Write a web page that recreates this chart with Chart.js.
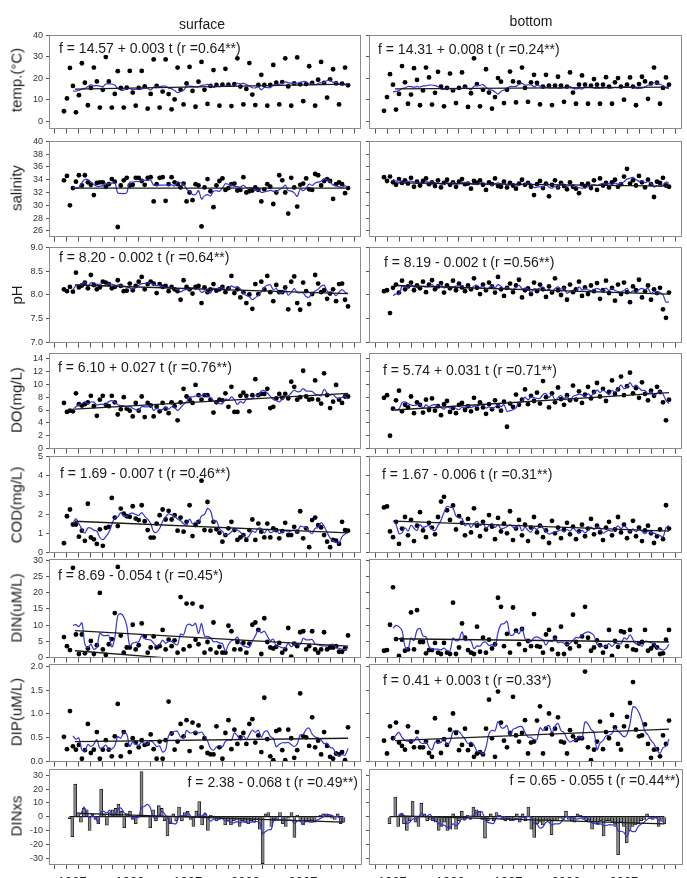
<!DOCTYPE html>
<html lang="en">
<head>
<meta charset="UTF-8">
<title>surface / bottom</title>
<script src="https://cdn.jsdelivr.net/npm/chart.js"></script>
<style>
  * { box-sizing: border-box; margin: 0; padding: 0; }
  html, body { width: 687px; height: 878px; overflow: hidden; background: #fff; }
  body { position: relative; font-family: "Liberation Sans", Arial, sans-serif; color: #1a1a1a; }
  .head { position: absolute; font-size: 14px; white-space: nowrap; transform: translate(-50%, -50%); }
  .ylab { position: absolute; font-size: 15px; white-space: nowrap; transform: translate(-50%, -50%) rotate(-90deg); }
  .eq { position: absolute; font-size: 14px; white-space: nowrap; transform: translateY(-50%); }
  .eq.r { transform: translate(-100%, -50%); }
</style>
</head>
<body>
<script>
// sampling times (quarterly)
const years = [
  1986.75, 1987, 1987.25, 1987.5, 1987.75, 1988, 1988.25, 1988.5, 1988.75, 1989, 1989.25, 1989.5, 1989.75, 1990, 1990.25, 1990.5,
  1990.75, 1991, 1991.25, 1991.5, 1991.75, 1992, 1992.25, 1992.5, 1992.75, 1993, 1993.25, 1993.5, 1993.75, 1994, 1994.25, 1994.5,
  1994.75, 1995, 1995.25, 1995.5, 1995.75, 1996, 1996.25, 1996.5, 1996.75, 1997, 1997.25, 1997.5, 1997.75, 1998, 1998.25, 1998.5,
  1998.75, 1999, 1999.25, 1999.5, 1999.75, 2000, 2000.25, 2000.5, 2000.75, 2001, 2001.25, 2001.5, 2001.75, 2002, 2002.25, 2002.5,
  2002.75, 2003, 2003.25, 2003.5, 2003.75, 2004, 2004.25, 2004.5, 2004.75, 2005, 2005.25, 2005.5, 2005.75, 2006, 2006.25, 2006.5,
  2006.75, 2007, 2007.25, 2007.5, 2007.75, 2008, 2008.25, 2008.5, 2008.75, 2009, 2009.25, 2009.5, 2009.75, 2010, 2010.25, 2010.5
];

const tempSurface = [
  4.6,10.6,24.8,16.4, 4.1,12.1,27.0,17.9, 7.4,15.5,25.0,18.5, 6.3,14.6,29.9,18.5,
  6.3,12.7,23.3,15.5, 6.3,15.6,23.4,13.3, 7.2,15.5,23.4,16.2, 5.8,12.7,28.8,16.4,
  6.3,13.8,28.8,12.6, 5.5,10.1,25.0,14.6, 7.8,17.6,25.3,14.1, 6.7,18.4,27.6,14.6,
  8.0,16.4,23.8,16.9, 7.2,17.0,24.4,17.0, 7.0,17.3,29.3,16.1, 7.8,15.0,27.1,12.4,
  7.5,16.9,21.6,16.9, 7.2,16.9,26.2,17.9, 7.8,18.2,29.3,16.2, 7.2,17.6,29.7,17.2,
  9.3,17.3,25.6,17.8, 7.2,19.3,27.6,17.8, 11.0,19.5,24.2,17.6, 7.8,17.5,25.0,16.7
];
const tempBottom = [
  4.8,11.2,21.9,17.0, 5.4,12.7,25.7,18.1, 8.1,12.4,24.7,19.2, 7.4,14.3,25.0,20.4,
  7.7,13.2,23.0,16.1, 6.9,15.5,22.2,14.3, 8.4,15.5,22.7,16.1, 6.6,13.0,29.3,17.3,
  6.9,14.6,24.2,13.3, 5.8,11.2,20.1,18.4, 8.4,14.6,23.1,18.5, 8.7,18.1,25.0,15.5,
  9.0,18.1,21.6,17.8, 7.8,16.1,21.6,16.6, 7.5,16.6,20.7,16.6, 9.0,16.1,22.7,13.3,
  8.1,17.0,21.3,17.0, 8.1,16.6,19.6,17.0, 8.1,17.0,20.5,16.1, 8.1,18.1,20.1,16.1,
  10.0,17.0,20.4,16.1, 7.4,17.3,20.7,18.5, 10.4,17.6,25.0,17.9, 8.1,15.5,20.4,17.0
];
const salSurface = [
  33.9,34.6,30.0,32.7, 33.7,34.7,33.1,34.7, 33.6,33.2,31.6,33.5, 33.6,33.6,32.9,33.3,
  34.1,33.7,26.6,33.1, 33.9,34.3,33.1,33.2, 34.3,34.3,33.8,33.2, 34.3,34.4,30.6,33.3,
  34.3,34.4,30.7,33.3, 34.4,33.6,33.3,32.8, 33.4,30.6,32.0,30.8, 33.3,33.1,26.7,32.8,
  34.1,32.2,29.7,33.1, 33.8,34.2,32.4,32.7, 33.3,33.4,32.3,32.4, 34.4,32.0,32.2,32.3,
  32.8,32.4,30.6,32.5, 33.3,32.9,30.2,32.0, 34.7,33.9,32.0,28.7, 34.3,32.8,29.8,33.2,
  33.4,34.2,32.5,32.4, 34.9,34.7,33.1,33.8, 34.1,33.8,31.0,33.3, 33.6,33.3,31.9,32.7
];
const salBottom = [
  34.4,33.8,34.5,33.6, 33.2,34.1,33.5,33.9, 33.4,34.3,32.9,33.7, 33.1,33.8,34.2,33.3,
  33.6,33.0,33.9,32.8, 33.5,34.0,33.2,33.6, 32.9,33.7,34.1,33.3, 33.4,32.6,33.8,33.5,
  33.9,33.2,32.4,33.6, 33.3,34.2,33.0,32.9, 33.7,32.8,33.5,33.1, 32.6,33.4,34.0,33.2,
  33.5,32.9,31.6,33.3, 33.8,32.7,33.4,31.4, 33.2,33.9,32.8,33.5, 33.0,32.5,33.6,32.9,
  32.6,31.9,33.3,33.0, 33.4,32.7,33.9,32.4, 34.2,33.1,33.5,32.8, 33.6,34.0,32.9,33.3,
  34.5,35.7,33.4,33.9, 33.1,34.6,33.6,32.8, 34.0,33.3,31.3,33.7, 33.5,34.3,33.1,32.9
];
const phSurface = [
  8.12,8.08,8.17,8.07, 8.47,8.16,8.20,8.26, 8.14,8.42,8.21,8.12, 8.16,8.28,8.26,8.23,
  8.14,8.17,8.31,8.19, 8.08,8.09,8.24,8.10, 8.19,8.28,8.38,8.12, 8.23,8.28,8.24,8.04,
  8.23,8.17,8.19,8.08, 8.17,8.12,8.08,7.90, 8.31,8.17,8.12,8.03, 8.17,8.19,7.83,8.16,
  8.06,8.12,8.23,8.09, 8.12,8.17,8.06,8.14, 8.40,8.04,8.12,7.95, 8.06,7.83,8.01,7.71,
  8.23,8.02,8.28,8.12, 8.40,8.06,7.87,8.21, 8.06,8.06,8.16,7.70, 8.28,8.39,7.83,7.69,
  8.26,8.08,7.81,8.02, 8.42,8.24,8.06,8.10, 7.92,8.03,8.12,7.87, 8.23,8.24,7.90,7.76
];
const phBottom = [
  8.08,8.10,7.62,8.15, 8.22,8.05,8.30,8.12, 8.18,8.26,8.10,8.20, 8.14,8.28,8.06,8.22,
  8.31,8.12,8.18,8.25, 8.05,8.20,8.14,8.30, 8.10,8.24,8.16,8.08, 8.20,8.12,8.35,8.15,
  8.02,8.22,8.10,8.26, 8.18,8.05,8.38,8.12, 7.98,8.15,8.24,8.06, 8.20,8.32,7.95,8.10,
  8.14,8.02,8.26,8.08, 8.22,8.12,7.96,8.18, 8.05,8.35,8.10,8.00, 8.15,7.90,8.22,8.06,
  8.12,8.28,7.98,8.16, 8.02,8.20,8.08,8.25, 7.92,8.10,8.30,8.04, 8.15,7.88,8.22,8.02,
  8.26,8.06,7.85,8.18, 8.10,8.32,7.95,8.08, 8.20,7.90,8.12,8.04, 8.15,7.70,7.52,8.05
];
const doSurface = [
  7.1,5.7,5.9,5.8, 8.6,6.9,6.7,6.9, 7.2,8.2,6.6,5.1, 7.6,8.2,6.8,6.6,
  8.2,7.2,5.3,6.1, 8.0,6.2,5.9,5.0, 7.1,5.9,8.1,4.9, 7.1,6.7,5.0,6.5,
  5.8,7.1,6.2,5.5, 7.2,6.6,4.4,7.2, 9.3,8.1,7.6,7.1, 9.9,8.3,7.6,8.3,
  8.3,7.6,5.6,7.2, 7.6,7.5,8.6,6.5, 9.6,5.7,5.7,8.2, 8.7,8.2,5.8,8.3,
  10.8,8.3,8.5,8.5, 9.3,6.3,6.5,7.8, 8.5,7.9,8.5,7.8, 10.4,9.6,7.6,8.0,
  12.1,8.1,7.6,7.7, 10.6,7.6,7.0,11.7, 8.3,6.3,7.3,9.9, 7.6,7.1,8.1,8.1
];
const doBottom = [
  7.9,8.3,2.0,6.2, 7.5,9.0,5.8,6.8, 6.4,8.1,5.5,7.2, 6.8,5.6,7.6,6.0,
  7.8,5.9,6.6,5.2, 6.9,7.4,5.7,6.3, 5.5,6.8,7.1,6.0, 6.6,5.8,7.9,6.2,
  7.2,6.4,5.4,6.9, 6.1,7.5,6.6,5.9, 7.3,3.4,7.0,6.5, 8.4,6.8,7.6,9.2,
  6.9,8.2,7.4,8.7, 7.0,10.5,8.0,6.4, 8.6,7.2,9.5,7.7, 6.8,8.3,7.5,9.8,
  7.6,8.9,7.1,8.4, 9.6,7.8,8.8,10.2, 8.1,9.3,7.4,8.8, 10.6,8.5,9.2,11.2,
  8.3,9.7,11.8,8.6, 9.4,7.9,10.3,8.5, 7.5,9.0,8.2,9.6, 8.8,7.2,4.4,7.6
];
const codSurface = [
  0.49,1.89,2.24,1.46, 1.46,0.83,1.14,0.61, 2.54,0.79,0.69,0.45, 1.21,0.35,1.29,1.34,
  2.84,1.82,1.38,2.29, 2.03,1.89,1.86,2.41, 1.77,1.69,2.46,1.63, 1.17,0.78,0.78,1.51,
  1.94,2.24,1.72,2.17, 1.72,1.94,1.14,1.82, 1.09,1.60,2.46,0.86, 1.43,1.60,3.74,1.17,
  2.63,1.14,1.60,1.21, 1.03,0.57,0.91,1.26, 1.60,1.17,0.66,0.79, 0.91,0.66,1.17,1.72,
  0.66,1.51,1.09,0.79, 1.51,0.79,1.26,1.17, 0.74,1.12,1.55,0.91, 0.91,1.34,1.09,2.15,
  0.74,1.26,0.28,1.69, 1.82,1.43,1.31,0.91, 0.57,0.28,0.66,0.62, 0.45,1.60,1.17,1.14
];
const codBottom = [
  2.35,2.40,1.10,0.80, 1.60,0.45,1.25,1.85, 0.90,1.70,0.60,1.40, 2.10,1.15,0.80,1.55,
  1.30,0.95,1.85,2.65, 2.90,2.20,1.70,2.45, 1.20,1.90,1.55,0.90, 1.75,1.05,2.30,1.40,
  0.85,1.60,1.20,1.95, 1.35,0.70,1.80,1.10, 1.50,1.00,2.15,0.65, 1.25,1.70,0.90,1.45,
  0.60,1.30,1.85,1.05, 1.40,0.80,1.15,0.50, 1.65,1.00,1.30,0.75, 1.20,1.55,0.95,1.35,
  0.70,1.10,1.45,0.85, 1.25,1.75,0.95,1.40, 1.05,0.65,1.30,1.60, 0.90,1.20,1.85,1.05,
  1.45,0.75,1.10,1.65, 0.85,1.30,0.60,1.15, 1.40,1.00,0.50,0.85, 1.20,0.70,2.46,1.25
];
const dinSurface = [
  6.3,3.5,2.3,27.6, 7.1,1.1,7.1,1.3, 2.8,5.1,1.1,3.8, 19.9,2.5,0.8,4.1,
  5.7,13.7,27.9,6.8, 1.5,3.1,3.1,10.1, 2.5,3.8,10.5,6.5, 1.5,3.1,6.5,3.1,
  3.5,8.5,2.5,5.5, 3.5,5.3,1.5,18.6, 2.5,16.6,3.5,16.6, 5.5,4.1,15.6,1.5,
  4.8,2.5,10.8,1.5, 3.3,1.5,1.5,9.8, 8.1,2.5,4.8,2.5, 4.5,1.5,4.3,10.1,
  10.8,8.5,1.1,12.1, 4.8,3.1,2.8,3.3, 4.5,1.5,2.5,9.1, 0.3,4.3,3.5,7.8,
  8.1,2.5,3.5,8.1, 2.5,1.5,2.5,7.8, 2.5,3.1,3.1,3.5, 1.8,1.8,2.8,6.8
];
const dinBottom = [
  2.1,2.3,10.1,21.6, 5.7,0.5,5.5,2.1, 2.5,13.9,2.5,14.6, 4.8,4.8,1.3,2.3,
  2.3,4.5,1.5,1.1, 4.5,1.5,1.1,16.9, 1.1,3.1,10.5,6.1, 2.3,1.5,1.1,9.5,
  1.8,6.1,1.5,5.5, 2.8,4.1,18.4,15.6, 3.5,7.3,1.5,15.4, 8.3,4.1,8.8,2.3,
  5.1,3.5,13.4,3.5, 3.3,1.5,7.1,8.5, 2.5,6.1,1.1,9.5, 1.1,4.1,2.8,13.2,
  4.8,3.5,6.5,15.6, 6.1,2.1,3.1,5.3, 3.8,1.5,3.3,8.5, 0.5,5.1,3.3,8.1,
  7.8,3.5,8.5,2.5, 2.3,4.3,4.8,8.5, 2.1,2.8,3.8,3.1, 1.1,1.3,5.5,8.5
];
const dipSurface = [
  0.52,0.26,1.06,0.32, 0.25,0.35,0.06,0.24, 0.79,0.18,0.25,0.62, 0.06,0.25,0.45,0.25,
  0.11,0.53,1.21,0.11, 0.62,0.35,0.20,0.49, 0.40,0.30,0.45,0.35, 0.37,0.57,0.26,0.06,
  0.42,0.06,0.45,1.26, 0.59,0.25,0.42,0.79, 0.53,0.87,0.22,0.82, 0.60,0.76,0.30,0.49,
  0.18,0.15,0.15,0.74, 0.30,0.06,0.60,0.87, 0.26,0.67,0.37,0.51, 0.60,0.37,0.79,0.89,
  0.40,0.55,0.20,1.34, 0.47,0.11,0.03,0.64, 0.67,0.24,0.03,0.67, 0.49,0.08,0.24,1.43,
  0.53,0.51,0.33,0.93, 0.30,0.44,0.15,0.62, 0.33,0.10,0.06,0.17, 0.15,0.20,0.03,0.72
];
const dipBottom = [
  0.44,0.17,0.74,0.49, 0.82,0.40,0.33,0.25, 0.74,0.42,0.30,0.62, 0.30,0.30,0.42,0.18,
  0.10,0.91,0.42,0.18, 0.47,0.35,0.67,1.01, 0.60,0.24,0.35,0.69, 0.24,0.35,0.10,0.17,
  0.20,0.15,0.69,1.30, 0.49,0.10,1.47,0.82, 0.44,0.30,0.60,1.36, 0.55,0.42,0.60,0.87,
  0.17,0.40,0.42,0.86, 1.16,0.17,0.69,1.01, 0.57,0.69,0.93,0.42, 0.40,0.17,0.66,0.53,
  0.45,0.49,0.49,1.89, 0.30,0.03,0.25,0.42, 0.84,0.26,0.62,0.49, 0.98,0.72,0.37,0.25,
  0.74,0.94,1.23,1.67, 0.67,0.53,0.55,0.78, 0.37,0.08,0.25,0.26, 0.11,0.55,0.37,0.86
];
const dinxsSurface = [
  -1.5,-14.5,23.6,3, -4,6,5,-10, 2,-2,-5,20, 2,-6.2,3,5,
  6,9,4,-8, 2,4,-2,-5, 1,32.8,1,1, -8,5,-3,8,
  6,-3,-14,-5, 2,-3,7,-3, 3,4,-2,-7, 4,11,-6,2,
  -10,1,0.5,-3, -2,-1,-6,-3, -6,-3,-2,-7, -3,-4,-5,-3,
  -4,-2,-9,-34, 2,3,-7,-3, -2,3,-5,-7, -1,3,-15,1,
  -2,-6,-4,-3, -3,-4,0.5,1, 2,2,1,-1, -2,2,-5,-4
];
const dinxsBottom = [
  -5,0,14.3,-7, 2,-5,-10,-3, 11.4,-4,-7,9.8, 2,-3,-2,-3,
  -4,-10,-7,-4, -10,-9,2,-9, -3,4,-2,1, -2,7,5,4,
  -2,-15.5,-3,2, -3,3,1,-2, -3,-2,-3,-2, 2,-4,2,-3,
  7,-9,-15,-5, -4,-6,-2,-3, -13,-3,-2,-1, -2,4,-2,-3,
  -4,2,1,-2, -3,-4,-9,-4, -5,-3,-14,-3, -3,-4,-7,-27.5,
  -4,-7,-19,-10, -7,-6,-5,-3, -2,2,-1,-2, -1,-7,-2,-5
];

// regression lines: [start, end] values over trendYears
const trendYears = [1987.67, 2010.5];
const trendSurface = [[14.9, 17.3], [32.7, 32.7], [8.21, 8.03], [6.15, 8.6], [1.63, 1.03], [8.3, 3.5], [0.42, 0.49], [2.4, -4.0]];
const trendBottom  = [[15.0, 15.9], [33.5, 33.0], [8.20, 8.02], [6.0, 8.7], [1.64, 1.12], [5.8, 4.8], [0.44, 0.68], [0.65, -5.2]];
// short extra line in the DIN surface panel
const dinLowYears = [1987.67, 1995.0];
const dinLowValues = [2.1, 0];

const rowTitles = ['temp.(°C)', 'salinity', 'pH', 'DO(mg/L)', 'COD(mg/L)', 'DIN(uM/L)', 'DIP(uM/L)', 'DINxs'];
const yTickValues = [
  [0, 10, 20, 30, 40],
  [26, 28, 30, 32, 34, 36, 38, 40],
  [7.0, 7.5, 8.0, 8.5, 9.0],
  [0, 2, 4, 6, 8, 10, 12, 14],
  [0, 1, 2, 3, 4, 5],
  [0, 5, 10, 15, 20, 25, 30],
  [0, 0.5, 1.0, 1.5, 2.0],
  [-30, -20, -10, 0, 10, 20, 30]
];
const yDecimals = [0, 0, 1, 0, 0, 0, 1, 0];
const xTickYears = [1986,1987,1988,1989,1990,1991,1992,1993,1994,1995,1996,1997,1998,1999,2000,2001,2002,2003,2004,2005,2006,2007,2008,2009,2010,2011];
const xLabelYears = [1987, 1992, 1997, 2002, 2007];

const eqSurface = [
  'f = 14.57 + 0.003 t (r =0.64**)', '', 'f = 8.20 - 0.002 t (r =0.64**)', 'f = 6.10 + 0.027 t (r =0.76**)',
  'f = 1.69 - 0.007 t (r =0.46**)', 'f = 8.69 - 0.054 t (r =0.45*)', '', 'f = 2.38 - 0.068 t (r =0.49**)'
];
const eqBottom = [
  'f = 14.31 + 0.008 t (r =0.24**)', '', 'f = 8.19 - 0.002 t (r =0.56**)', 'f = 5.74 + 0.031 t (r =0.71**)',
  'f = 1.67 - 0.006 t (r =0.31**)', '', 'f = 0.41 + 0.003 t (r =0.33*)', 'f = 0.65 - 0.055 t (r =0.44**)'
];

const series = [
  [tempSurface, tempBottom], [salSurface, salBottom], [phSurface, phBottom], [doSurface, doBottom],
  [codSurface, codBottom], [dinSurface, dinBottom], [dipSurface, dipBottom], [dinxsSurface, dinxsBottom]
];

// layout: plot box top/bottom (px) and y range for each row
const rowBox = [
  [34, 129, -3.5, 40], [140, 237, 25.1, 40], [246, 343, 7, 9], [352, 449, 0, 14.8],
  [455, 553, 0, 5], [558, 658, 0, 30.2], [663, 762, 0, 2.04], [768, 864, -34.3, 34.3]
];
const rowCenters = [80, 188, 295, 400, 505, 608, 712, 816];
// equation positions [x, y, alignRight]
const eqPos = [
  [[59, 48], [378, 49]], [null, null], [[59, 257], [384, 262]], [[58, 367], [383, 370]],
  [[60, 473], [382, 474]], [[58, 575], null], [null, [383, 680]], [[358, 782, 1], [680, 780, 1]]
];

Chart.defaults.font.family = '"Liberation Sans", Arial, sans-serif';

const boxPlugin = {
  id: 'box',
  afterDraw(chart) {
    const { ctx, chartArea: a } = chart;
    ctx.save();
    ctx.strokeStyle = '#8c8c8c';
    ctx.lineWidth = 1;
    ctx.strokeRect(Math.round(a.left) + 0.5, Math.round(a.top) + 0.5, Math.round(a.right - a.left), Math.round(a.bottom - a.top));
    ctx.restore();
  }
};

// running mean over 4 samples (one year)
function runningMean(v, n) {
  const out = [];
  for (let i = n - 1; i < v.length; i++) {
    let s = 0;
    for (let k = i - n + 1; k <= i; k++) s += v[k];
    out.push({ x: years[i], y: s / n });
  }
  return out;
}

function makePanel(col, r) {
  const isLeft = col === 0;
  const isLast = r === rowBox.length - 1;
  const [top, bottom, yMin, yMax] = rowBox[r];
  const canvasLeft = isLeft ? 0 : 362;
  const axisW = isLeft ? 49 : 7;
  const plotRight = isLeft ? 361 : 682;
  const padTop = 7, padRight = 3;
  const xH = isLast ? 32 : 8;
  const w = plotRight - canvasLeft + padRight;
  const h = bottom - top + padTop + xH;

  const cv = document.createElement('canvas');
  cv.width = w; cv.height = h;
  cv.style.cssText = `position:absolute;left:${canvasLeft}px;top:${top - padTop}px;width:${w}px;height:${h}px`;
  document.body.appendChild(cv);

  const vals = series[r][col];
  const tr = (isLeft ? trendSurface : trendBottom)[r];
  const datasets = [
    { type: 'line', data: [{ x: trendYears[0], y: tr[0] }, { x: trendYears[1], y: tr[1] }],
      borderColor: '#1a1a1a', borderWidth: 1.3, pointRadius: 0 },
    { type: 'line', data: runningMean(vals, 4), borderColor: '#3434d6', borderWidth: 1.2,
      pointRadius: 0, tension: 0.35 }
  ];
  if (r === 5 && isLeft) {
    datasets.push({ type: 'line', data: dinLowYears.map((x, i) => ({ x, y: dinLowValues[i] })),
      borderColor: '#1a1a1a', borderWidth: 1.3, pointRadius: 0 });
  }
  if (isLast) {
    datasets.push({ type: 'line', data: [{ x: years[0], y: 0 }, { x: years[years.length - 1], y: 0 }],
      borderColor: '#1a1a1a', borderWidth: 1.2, pointRadius: 0 });
    datasets.push({ type: 'bar', data: years.map((x, i) => ({ x, y: vals[i] })),
      backgroundColor: '#8a8a8a', borderColor: '#111', borderWidth: 0.8, barThickness: 3 });
  } else {
    datasets.push({ type: 'scatter', data: years.map((x, i) => ({ x, y: vals[i] })),
      pointRadius: 2.4, backgroundColor: '#000', borderWidth: 0 });
  }

  new Chart(cv, {
    type: 'scatter',
    data: { datasets },
    plugins: [boxPlugin],
    options: {
      responsive: false,
      animation: false,
      layout: { padding: { top: padTop, right: padRight, left: 0, bottom: 0 } },
      plugins: { legend: { display: false }, tooltip: { enabled: false } },
      scales: {
        x: {
          type: 'linear', min: 1985.5, max: 2011.5,
          afterBuildTicks: s => { s.ticks = xTickYears.map(v => ({ value: v })); },
          afterFit: s => { s.height = xH; },
          border: { display: false },
          grid: { drawOnChartArea: false, drawTicks: true, tickLength: 5, color: '#555' },
          ticks: {
            autoSkip: false, maxRotation: 0, padding: 6, color: '#222',
            font: { size: 13 },
            callback: v => (isLast && xLabelYears.includes(v)) ? String(v) : ''
          }
        },
        y: {
          min: yMin, max: yMax,
          afterBuildTicks: s => { s.ticks = yTickValues[r].map(v => ({ value: v })); },
          afterFit: s => { s.width = axisW; },
          border: { display: false },
          grid: { drawOnChartArea: false, drawTicks: true, tickLength: 3, color: '#555' },
          ticks: {
            padding: 3, color: '#333', font: { size: 9 },
            callback: v => isLeft ? v.toFixed(yDecimals[r]) : ''
          }
        }
      }
    }
  });

  const eq = (isLeft ? eqSurface : eqBottom)[r];
  const pos = eqPos[r][col];
  if (eq && pos) {
    const d = document.createElement('div');
    d.className = pos[2] ? 'eq r' : 'eq';
    d.style.left = pos[0] + 'px';
    d.style.top = pos[1] + 'px';
    d.textContent = eq;
    document.body.appendChild(d);
  }
}

for (let r = 0; r < rowBox.length; r++) {
  makePanel(0, r);
  makePanel(1, r);
  const t = document.createElement('div');
  t.className = 'ylab';
  t.style.left = '16px';
  t.style.top = rowCenters[r] + 'px';
  t.textContent = rowTitles[r];
  document.body.appendChild(t);
}

[['surface', 202, 24], ['bottom', 531, 21]].forEach(([txt, x, y]) => {
  const d = document.createElement('div');
  d.className = 'head';
  d.style.left = x + 'px';
  d.style.top = y + 'px';
  d.textContent = txt;
  document.body.appendChild(d);
});
</script>
</body>
</html>
